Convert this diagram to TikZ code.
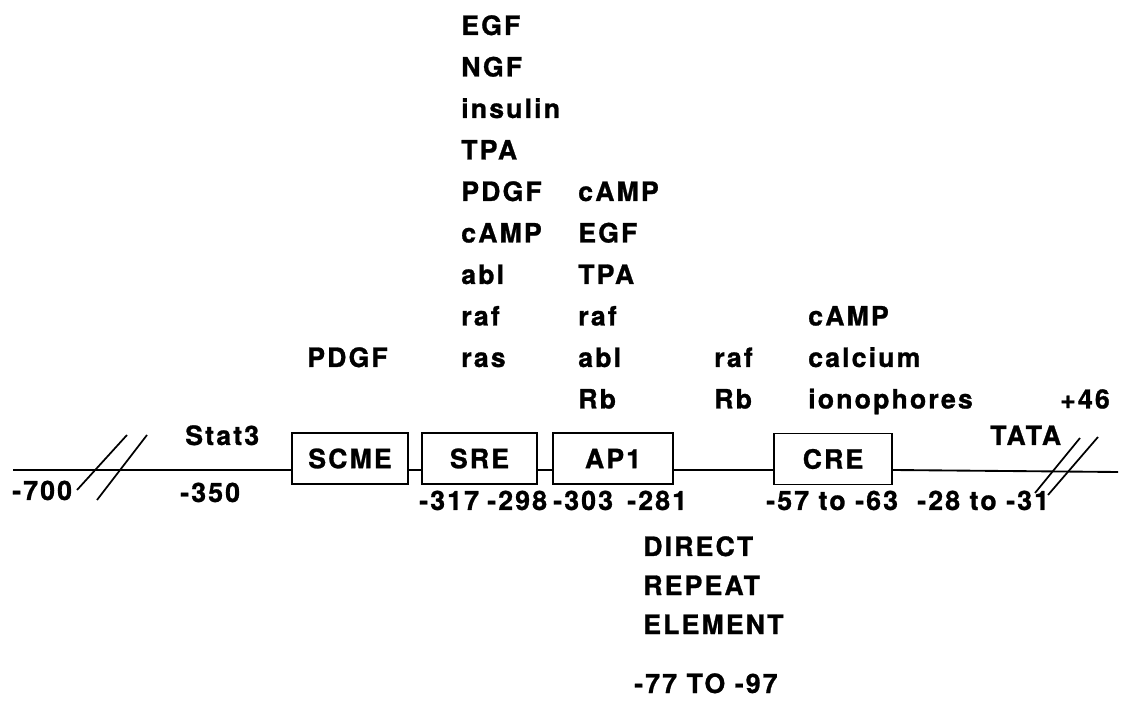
\documentclass[tikz,border=0pt]{standalone}
\usepackage{fontspec}
\newfontfamily\lab{texgyreheros-bold.otf}[LetterSpace=8,FakeBold=1]
\begin{document}
\begin{tikzpicture}[x=0.75pt,y=-0.75pt,
  lbl/.style={font=\lab\fontsize{20}{23}\selectfont, inner sep=0pt, anchor=base west},
  elem/.style={draw, line width=1.4pt, inner sep=0pt, minimum height=38.25pt, font=\lab\fontsize{20}{23}\selectfont},
  dna/.style={line width=1.4pt},
  brk/.style={line width=1.3pt}]
\useasboundingbox (0,0) rectangle (1132,705);
% DNA line and elements
\coordinate (L) at (13,470);
\coordinate (R) at (1118,472);
\node[elem, minimum width=87pt] (scme) at (350,458.5) {SCME};
\node[elem, minimum width=86.25pt] (sre) at (479.5,458.5) {SRE};
\node[elem, minimum width=90pt] (ap1) at (613,458.5) {AP1};
\node[elem, minimum width=88.5pt] (cre) at (833,459) {CRE};
\draw[dna] (L) -- (scme.west |- L);
\draw[dna] (scme.east |- L) -- (sre.west |- L);
\draw[dna] (sre.east |- L) -- (ap1.west |- L);
\draw[dna] (ap1.east |- L) -- (cre.west |- L);
\draw[dna] (cre.east |- L) -- (R);
% break marks
\coordinate (lb1a) at (77,490); \coordinate (lb1b) at (127,435);
\coordinate (lb2a) at (97,500); \coordinate (lb2b) at (147,435);
\coordinate (rb1a) at (1035,493); \coordinate (rb1b) at (1080,438);
\coordinate (rb2a) at (1048,495); \coordinate (rb2b) at (1098,437);
\draw[brk] (lb1a) -- (lb1b);
\draw[brk] (lb2a) -- (lb2b);
\draw[brk] (rb1a) -- (rb1b);
\draw[brk] (rb2a) -- (rb2b);
% column 1
\node[lbl] (a1) at (461,35) {EGF};
\node[lbl] (a2) at (461,76.5) {NGF};
\node[lbl] (a3) at (461,118) {insulin};
\node[lbl] (a4) at (461,159.5) {TPA};
\node[lbl] (a5) at (461,201) {PDGF};
\node[lbl] (a6) at (461,242.5) {cAMP};
\node[lbl] (a7) at (461,284) {abl};
\node[lbl] (a8) at (461,325.5) {raf};
\node[lbl] (a9) at (461,367) {ras};
% column 2
\node[lbl] (b5) at (578,201) {cAMP};
\node[lbl] (b6) at (578,242.5) {EGF};
\node[lbl] (b7) at (578,284) {TPA};
\node[lbl] (b8) at (578,325.5) {raf};
\node[lbl] (b9) at (578,367) {abl};
\node[lbl] (b10) at (578,408.5) {Rb};
% others above
\node[lbl] (pdgf) at (307,367) {PDGF};
\node[lbl] (c9) at (714,367) {raf};
\node[lbl] (c10) at (714,408.5) {Rb};
\node[lbl] (d8) at (808,325.5) {cAMP};
\node[lbl] (d9) at (808,367) {calcium};
\node[lbl] (d10) at (808,408.5) {ionophores};
\node[lbl] (p46) at (1060,408.5) {+46};
\node[lbl] (stat) at (185,445) {Stat3};
\node[lbl] (tata) at (990,445) {TATA};
% positions below
\node[lbl] (m700) at (12,500) {-700};
\node[lbl] (m350) at (180,502) {-350};
\node[lbl] (m317) at (419,510) {-317};
\node[lbl] (m298) at (487,510) {-298};
\node[lbl] (m303) at (553,510) {-303};
\node[lbl] (m281) at (627,510) {-281};
\node[lbl] (m57) at (766,510) {-57 to -63};
\node[lbl] (m28) at (917,510) {-28 to -31};
% direct repeat element
\node[lbl] (dr1) at (643,556) {DIRECT};
\node[lbl] (dr2) at (643,595) {REPEAT};
\node[lbl] (dr3) at (643,634) {ELEMENT};
\node[lbl] (dr4) at (634,693) {-77 TO -97};
\end{tikzpicture}
\end{document}
